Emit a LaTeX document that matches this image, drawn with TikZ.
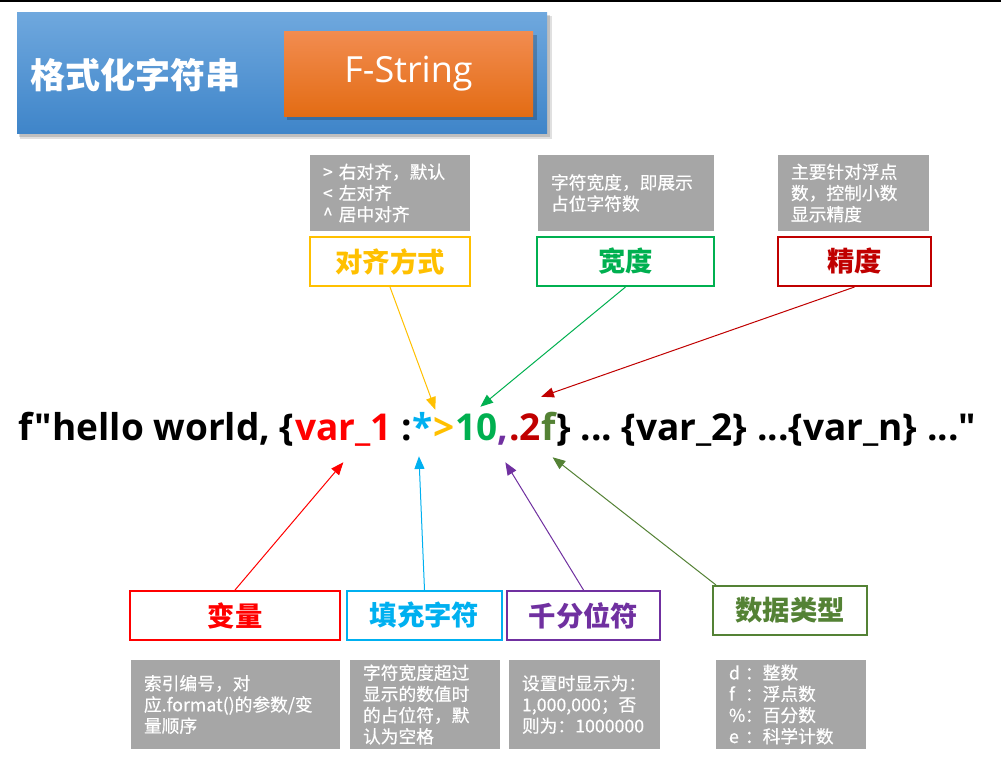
\documentclass[tikz,border=0pt]{standalone}
\usepackage{fontspec}
\setmainfont{Noto Sans CJK SC}
\newfontfamily\gfont[FakeBold=0.5]{Noto Sans CJK SC}
\newfontfamily\lat{Open Sans}
\usetikzlibrary{arrows.meta,calc}
\definecolor{bluetop}{HTML}{6FA8DE}
\definecolor{bluebot}{HTML}{3F85C9}
\definecolor{orgtop}{HTML}{F28C50}
\definecolor{orgbot}{HTML}{E36C14}
\definecolor{gbox}{HTML}{A6A6A6}
\definecolor{cyel}{HTML}{FFC000}
\definecolor{cgreen}{HTML}{00B050}
\definecolor{cdred}{HTML}{C00000}
\definecolor{cred}{HTML}{FF0000}
\definecolor{ccyan}{HTML}{00B0F0}
\definecolor{cpurp}{HTML}{7030A0}
\definecolor{colive}{HTML}{548235}
\begin{document}
\begin{tikzpicture}[x=0.75pt,y=-0.75pt,
  graybox/.style={fill=gbox, text=white, inner xsep=9.75pt, inner ysep=0pt, align=left,
    font=\gfont\fontsize{13.3}{15.9}\selectfont},
  tgray/.style={graybox, minimum height=57pt},
  bgray/.style={graybox, minimum height=66.75pt},
  label/.style={draw=#1, line width=1.5pt, text=#1, fill=white, inner sep=0pt,
    minimum height=36.75pt, font=\fontsize{20.5}{24}\selectfont\bfseries},
  seg/.style={inner sep=0pt, anchor=base west, text height=21pt, text depth=6pt,
    font=\lat\bfseries\fontsize{27.75}{30}\selectfont},
  arr/.style={draw=#1, line width=0.75pt, -{Triangle[length=9.5pt,width=7.5pt]}}]
\useasboundingbox (0,0) rectangle (1001,765);
\fill[white] (0,0) rectangle (1001,765);
\draw[line width=1.2pt] (0,1) -- (1001,1);
% title banner
\fill[black, opacity=0.12] (20,16) rectangle (552,139);
\fill[black, opacity=0.15] (19,15) rectangle (550,137);
\node[top color=bluetop, bottom color=bluebot, minimum width=397.5pt, minimum height=90.75pt, inner sep=0pt] (title) at (282,72.5) {};
\node[anchor=west, text=white, font=\fontsize{26.25}{30}\selectfont\bfseries, inner sep=0pt] (tname) at (30,75) {格式化字符串};
\fill[black, opacity=0.2] (287,35) rectangle (537,120);
\node[top color=orgtop, bottom color=orgbot, minimum width=186.75pt, minimum height=63.75pt, inner sep=0pt,
  text=white, font=\lat\fontsize{27}{30}\selectfont] (fstr) at (408.5,73.5) {F-String};
% top gray boxes
\node[tgray, text width=100.5pt] (g1) at (390,193) {> 右对齐，默认\\< 左对齐\\\textasciicircum{} 居中对齐};
\node[tgray, text width=112.5pt] (g2) at (626,193) {字符宽度，即展示\\占位字符数};
\node[tgray, text width=93.75pt] (g3) at (853.5,193) {主要针对浮点\\数，控制小数\\显示精度};
% top labels
\node[label=cyel, minimum width=120pt] (c1) at (390,261.5) {对齐方式};
\node[label=cgreen, minimum width=132.75pt] (c2) at (625.5,261.5) {宽度};
\node[label=cdred, minimum width=114.75pt] (c3) at (854.5,261.5) {精度};
% main string
\node[seg] (p1) at (18,440) {f"hello world,\ \{};
\node[seg, text=cred] (v1) at (p1.base east) {var\_1};
\node[seg] (p2) at (v1.base east) {\ :};
\node[seg, text=ccyan] (fi) at (p2.base east) {*};
\node[seg, text=cyel] (al) at (fi.base east) {>};
\node[seg, text=cgreen] (w) at (al.base east) {10};
\node[seg, text=cpurp] (th) at (w.base east) {,};
\node[seg, text=cdred] (pr) at (th.base east) {.2};
\node[seg, text=colive] (ty) at (pr.base east) {f};
\node[seg] (rest) at (ty.base east) {\}\ ...\ \{var\_2\}\ ...\{var\_n\}\ ..."};
% bottom labels
\node[label=cred, minimum width=157.5pt] (b1) at (235,615.5) {变量};
\node[label=ccyan, minimum width=116.25pt] (b2) at (424.5,615.5) {填充字符};
\node[label=cpurp, minimum width=114.75pt] (b3) at (583.5,615.5) {千分位符};
\node[label=colive, minimum width=115.5pt] (b4) at (790,610.5) {数据类型};
% bottom gray boxes
\node[bgray, text width=137.25pt] (d1) at (235.5,704.5) {索引编号，对\\应.format()的参数/变\\量顺序};
\node[bgray, text width=93pt] (d2) at (425,704.5) {字符宽度超过\\显示的数值时\\的占位符，默\\认为空格};
\node[bgray, text width=93.75pt] (d3) at (584.5,704.5) {设置时显示为：\\1,000,000；否\\则为：1000000};
\node[bgray, text width=93pt] (d4) at (791,704.5) {\makebox[0.9em][l]{d}：整数\\\makebox[0.9em][l]{f}：浮点数\\\makebox[0.9em][l]{\%}：百分数\\\makebox[0.9em][l]{e}：科学计数};
% arrows
\draw[arr=cyel] (c1.south) -- ($(al.north west)+(2,-2)$);
\draw[arr=cgreen] (c2.south) -- ($(w.north)+(4,-5)$);
\draw[arr=cdred] (c3.south) -- ($(pr.north east)+(0,-15)$);
\draw[arr=cred] (b1.north) -- ($(v1.south)+(0,14)$);
\draw[arr=ccyan] (b2.north) -- ($(fi.south)+(-4,8)$);
\draw[arr=cpurp] (b3.north) -- ($(th.south)+(2,14)$);
\draw[arr=colive] ($(b4.north west)+(4,0)$) -- ($(ty.south)+(4,9)$);
\end{tikzpicture}
\end{document}
